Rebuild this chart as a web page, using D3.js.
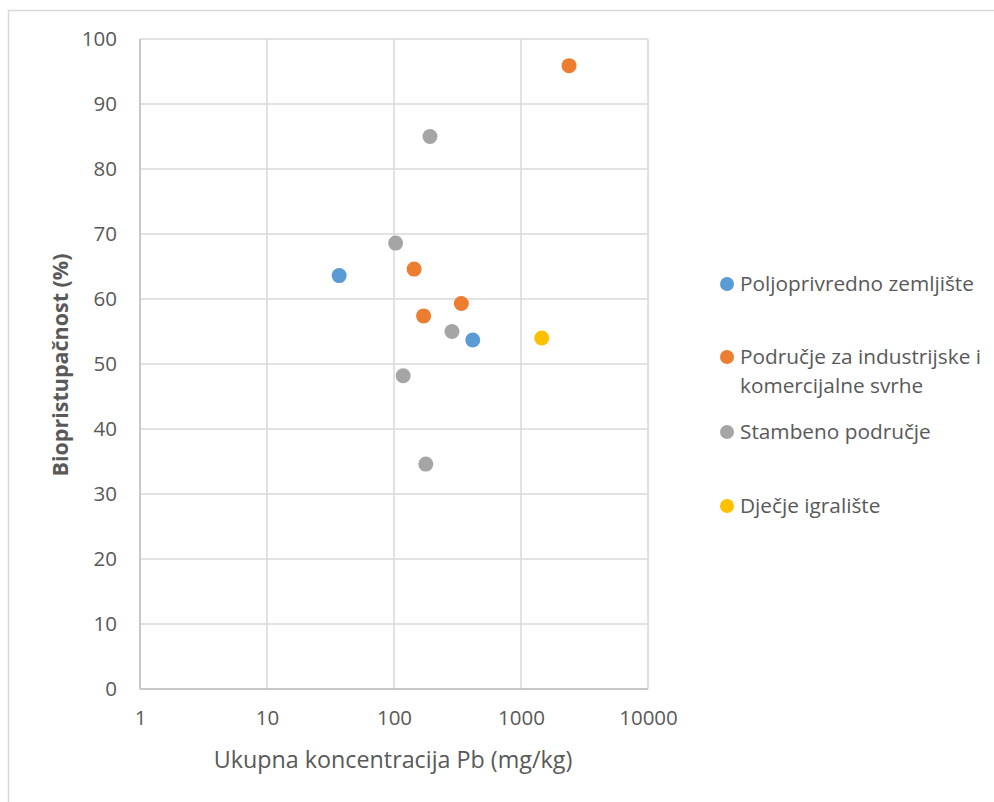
<!DOCTYPE html>
<html>
<head>
<meta charset="utf-8">
<script src="https://cdn.jsdelivr.net/npm/d3@7"></script>
<style>
  html, body { margin: 0; padding: 0; background: #fff; }
  svg { display: block; }
  text { font-family: "Open Sans", "Liberation Sans", sans-serif; fill: #595959; }
</style>
</head>
<body>
<svg id="chart" width="994" height="802"></svg>
<script>
// Series: total Pb concentration (mg/kg) vs. bioaccessibility (%)
const seriesNames = [
  "Poljoprivredno zemljište",
  "Područje za industrijske i komercijalne svrhe",
  "Stambeno područje",
  "Dječje igralište"
];
const seriesColors = ["#5b9bd5", "#ed7d31", "#a5a5a5", "#ffc000"];

const poljoX = [37, 417];
const poljoY = [63.6, 53.7];

const industrijaX = [144, 171, 339, 2390];
const industrijaY = [64.6, 57.4, 59.3, 95.9];

const stambenoX = [103, 118, 178, 192, 286];
const stambenoY = [68.6, 48.2, 34.6, 85.0, 55.0];

const igralisteX = [1456];
const igralisteY = [54.0];

const xTicks = [1, 10, 100, 1000, 10000];
const yTicks = [0, 10, 20, 30, 40, 50, 60, 70, 80, 90, 100];

const xTitle = "Ukupna koncentracija Pb (mg/kg)";
const yTitle = "Biopristupačnost (%)";

const seriesX = [poljoX, industrijaX, stambenoX, igralisteX];
const seriesY = [poljoY, industrijaY, stambenoY, igralisteY];

const svg = d3.select("#chart");

// outer chart frame
svg.append("rect")
  .attr("x", 8.5).attr("y", 10.5)
  .attr("width", 1000).attr("height", 900)
  .attr("fill", "none").attr("stroke", "#d9d9d9").attr("stroke-width", 1.5);

const plot = { left: 140, right: 648, top: 39, bottom: 689 };

const x = d3.scaleLog().domain([1, 10000]).range([plot.left, plot.right]);
const y = d3.scaleLinear().domain([0, 100]).range([plot.bottom, plot.top]);

// gridlines
const grid = svg.append("g");
grid.selectAll("line.h").data(yTicks).join("line")
  .attr("x1", plot.left).attr("x2", plot.right)
  .attr("y1", d => y(d)).attr("y2", d => y(d))
  .attr("stroke", "#d9d9d9").attr("stroke-width", 1.5);
grid.selectAll("line.v").data(xTicks).join("line")
  .attr("x1", d => x(d)).attr("x2", d => x(d))
  .attr("y1", plot.top).attr("y2", plot.bottom)
  .attr("stroke", "#d9d9d9").attr("stroke-width", 1.5);

// axes lines
svg.append("line")
  .attr("x1", plot.left).attr("x2", plot.left)
  .attr("y1", plot.top).attr("y2", plot.bottom)
  .attr("stroke", "#bfbfbf").attr("stroke-width", 1.5);
svg.append("line")
  .attr("x1", plot.left).attr("x2", plot.right)
  .attr("y1", plot.bottom).attr("y2", plot.bottom)
  .attr("stroke", "#bfbfbf").attr("stroke-width", 1.5);

// y tick labels
const yAxis = d3.axisLeft(y).tickValues(yTicks).tickSize(0).tickPadding(23).tickFormat(d3.format("d"));
const gy = svg.append("g").attr("transform", `translate(${plot.left},0)`).call(yAxis);
gy.select(".domain").remove();
gy.selectAll("text").attr("font-size", 20.5).attr("fill", "#595959")
  .style("font-family", "'Open Sans', sans-serif");

// x tick labels
const xAxis = d3.axisBottom(x).tickValues(xTicks).tickSize(0).tickPadding(21).tickFormat(d3.format("d"));
const gx = svg.append("g").attr("transform", `translate(0,${plot.bottom})`).call(xAxis);
gx.select(".domain").remove();
gx.selectAll("text").attr("font-size", 20.5).attr("fill", "#595959")
  .style("font-family", "'Open Sans', sans-serif");

// axis titles
svg.append("text")
  .attr("x", 393).attr("y", 768)
  .attr("text-anchor", "middle").attr("font-size", 23.3)
  .text(xTitle);
svg.append("text")
  .attr("transform", `translate(68,365) rotate(-90)`)
  .attr("text-anchor", "middle").attr("font-size", 21.5).attr("font-weight", "bold")
  .text(yTitle);

// points
seriesX.forEach((xs, i) => {
  svg.append("g").selectAll("circle").data(xs.map((v, j) => [v, seriesY[i][j]])).join("circle")
    .attr("cx", d => x(d[0])).attr("cy", d => y(d[1])).attr("r", 7.5)
    .attr("fill", seriesColors[i]);
});

// legend
const legendRows = [
  { lines: ["Poljoprivredno zemljište"], y: 284 },
  { lines: ["Područje za industrijske i", "komercijalne svrhe"], y: 357 },
  { lines: ["Stambeno područje"], y: 432 },
  { lines: ["Dječje igralište"], y: 506 }
];
const lg = svg.append("g");
legendRows.forEach((row, i) => {
  lg.append("circle").attr("cx", 727).attr("cy", row.y).attr("r", 7).attr("fill", seriesColors[i]);
  const t = lg.append("text").attr("x", 740).attr("y", row.y + 7).attr("font-size", 20.8);
  row.lines.forEach((ln, k) => {
    t.append("tspan").attr("x", 740).attr("dy", k === 0 ? 0 : 29).text(ln);
  });
});
</script>
</body>
</html>
